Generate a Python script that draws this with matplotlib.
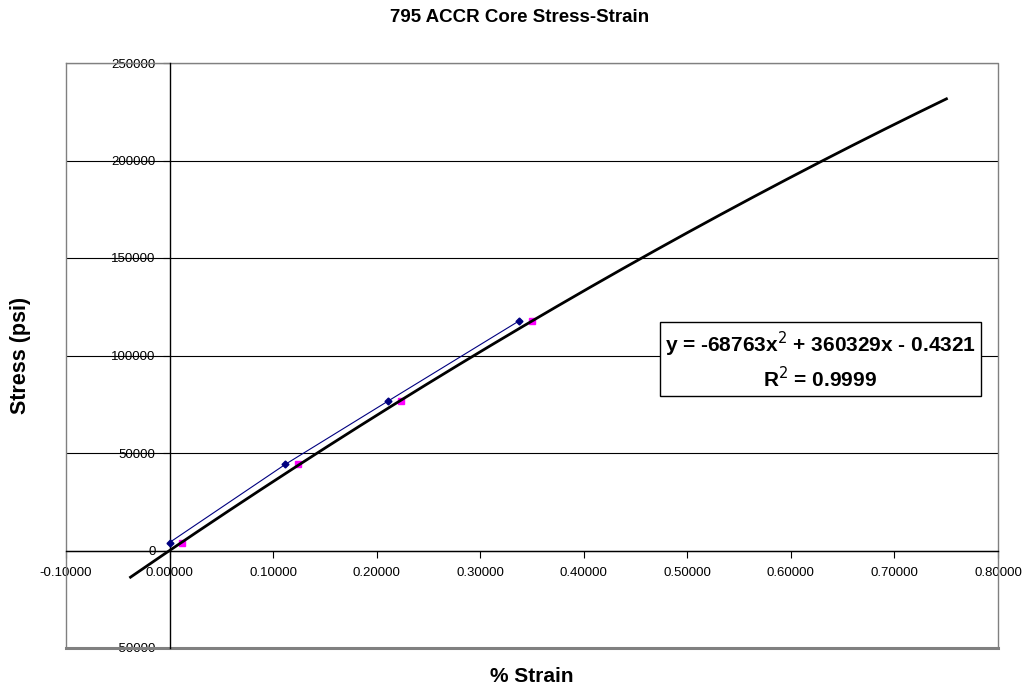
import numpy as np
import matplotlib
matplotlib.use('Agg')
import matplotlib.pyplot as plt
from matplotlib.lines import Line2D

plt.rcParams['font.family'] = ['Liberation Sans', 'DejaVu Sans']

# 数据
stress = [4100, 44150, 76500, 117700]
strain_a = [0.0, 0.1117, 0.2106, 0.3374]
strain_b = [0.0123, 0.1240, 0.2232, 0.3502]
fit_coef = [-68763, 360329, -0.4321]
x_ticks = [-0.1, 0.0, 0.1, 0.2, 0.3, 0.4, 0.5, 0.6, 0.7, 0.8]
y_ticks = [-50000, 0, 50000, 100000, 150000, 200000, 250000]

fig = plt.figure(figsize=(10.23, 6.91), dpi=100)
ax = fig.add_axes([66 / 1023, 1 - 648 / 691, 932 / 1023, 585 / 691])

# 数据点
ax.plot(strain_a, stress, color='#000080', lw=0.8, marker='D', ms=3.5, zorder=4)
ax.plot(strain_b, stress, ls='none', color='#FF00FF', marker='s', ms=5, zorder=3)

# 趋势线 (向前0.4, 向后0.05)
xt = np.linspace(min(strain_b) - 0.05, max(strain_b) + 0.4, 200)
ax.plot(xt, np.polyval(fit_coef, xt), color='black', lw=2, zorder=5)

ax.set_xlim(-0.1, 0.8)
ax.set_ylim(-50000, 250000)
ax.set_xticks(x_ticks)
ax.set_yticks(y_ticks)
ax.set_xticklabels(['%.5f' % v for v in x_ticks])
ax.set_yticklabels(['%d' % v for v in y_ticks])
ax.tick_params(labelsize=9.5, length=5, width=0.8, color='black')
ax.tick_params(axis='x', pad=7)
ax.tick_params(axis='y', pad=5)
ax.yaxis.grid(True, color='black', lw=0.8)
ax.set_axisbelow(True)

# 坐标轴穿过零点
for s in ['top', 'right']:
    ax.spines[s].set_visible(False)
ax.spines['left'].set_position(('data', 0))
ax.spines['bottom'].set_position(('data', 0))
ax.spines['left'].set_linewidth(1)
ax.spines['bottom'].set_linewidth(1)

# 灰色绘图区边框
ax.add_line(Line2D([0, 1, 1], [1, 1, 0], transform=ax.transAxes, color='#808080', lw=1, clip_on=False))
ax.add_line(Line2D([0, 0], [0, 1], transform=ax.transAxes, color='#808080', lw=1, clip_on=False))
ax.add_line(Line2D([0, 1], [0, 0], transform=ax.transAxes, color='#808080', lw=2.2, clip_on=False))

# 公式框
ax.text((820.5 - 66) / 932, (648 - 360.5) / 585,
        'y = -68763x$^{2}$ + 360329x - 0.4321\nR$^{2}$ = 0.9999',
        transform=ax.transAxes, ha='center', va='center', fontsize=15,
        fontweight='bold', linespacing=1.3, zorder=6,
        bbox=dict(boxstyle='square,pad=0.25', fc='white', ec='black', lw=1))

fig.text(520 / 1023, 1 - 22 / 691, '795 ACCR Core Stress-Strain', ha='center', va='baseline',
         fontsize=13.5, fontweight='bold')
fig.text(532 / 1023, 1 - 677 / 691, '% Strain', ha='center', va='center',
         fontsize=15, fontweight='bold')
fig.text(21 / 1023, 1 - 355 / 691, 'Stress (psi)', ha='center', va='center',
         fontsize=15.5, fontweight='bold', rotation=90)

plt.savefig('out.png', dpi=100)
